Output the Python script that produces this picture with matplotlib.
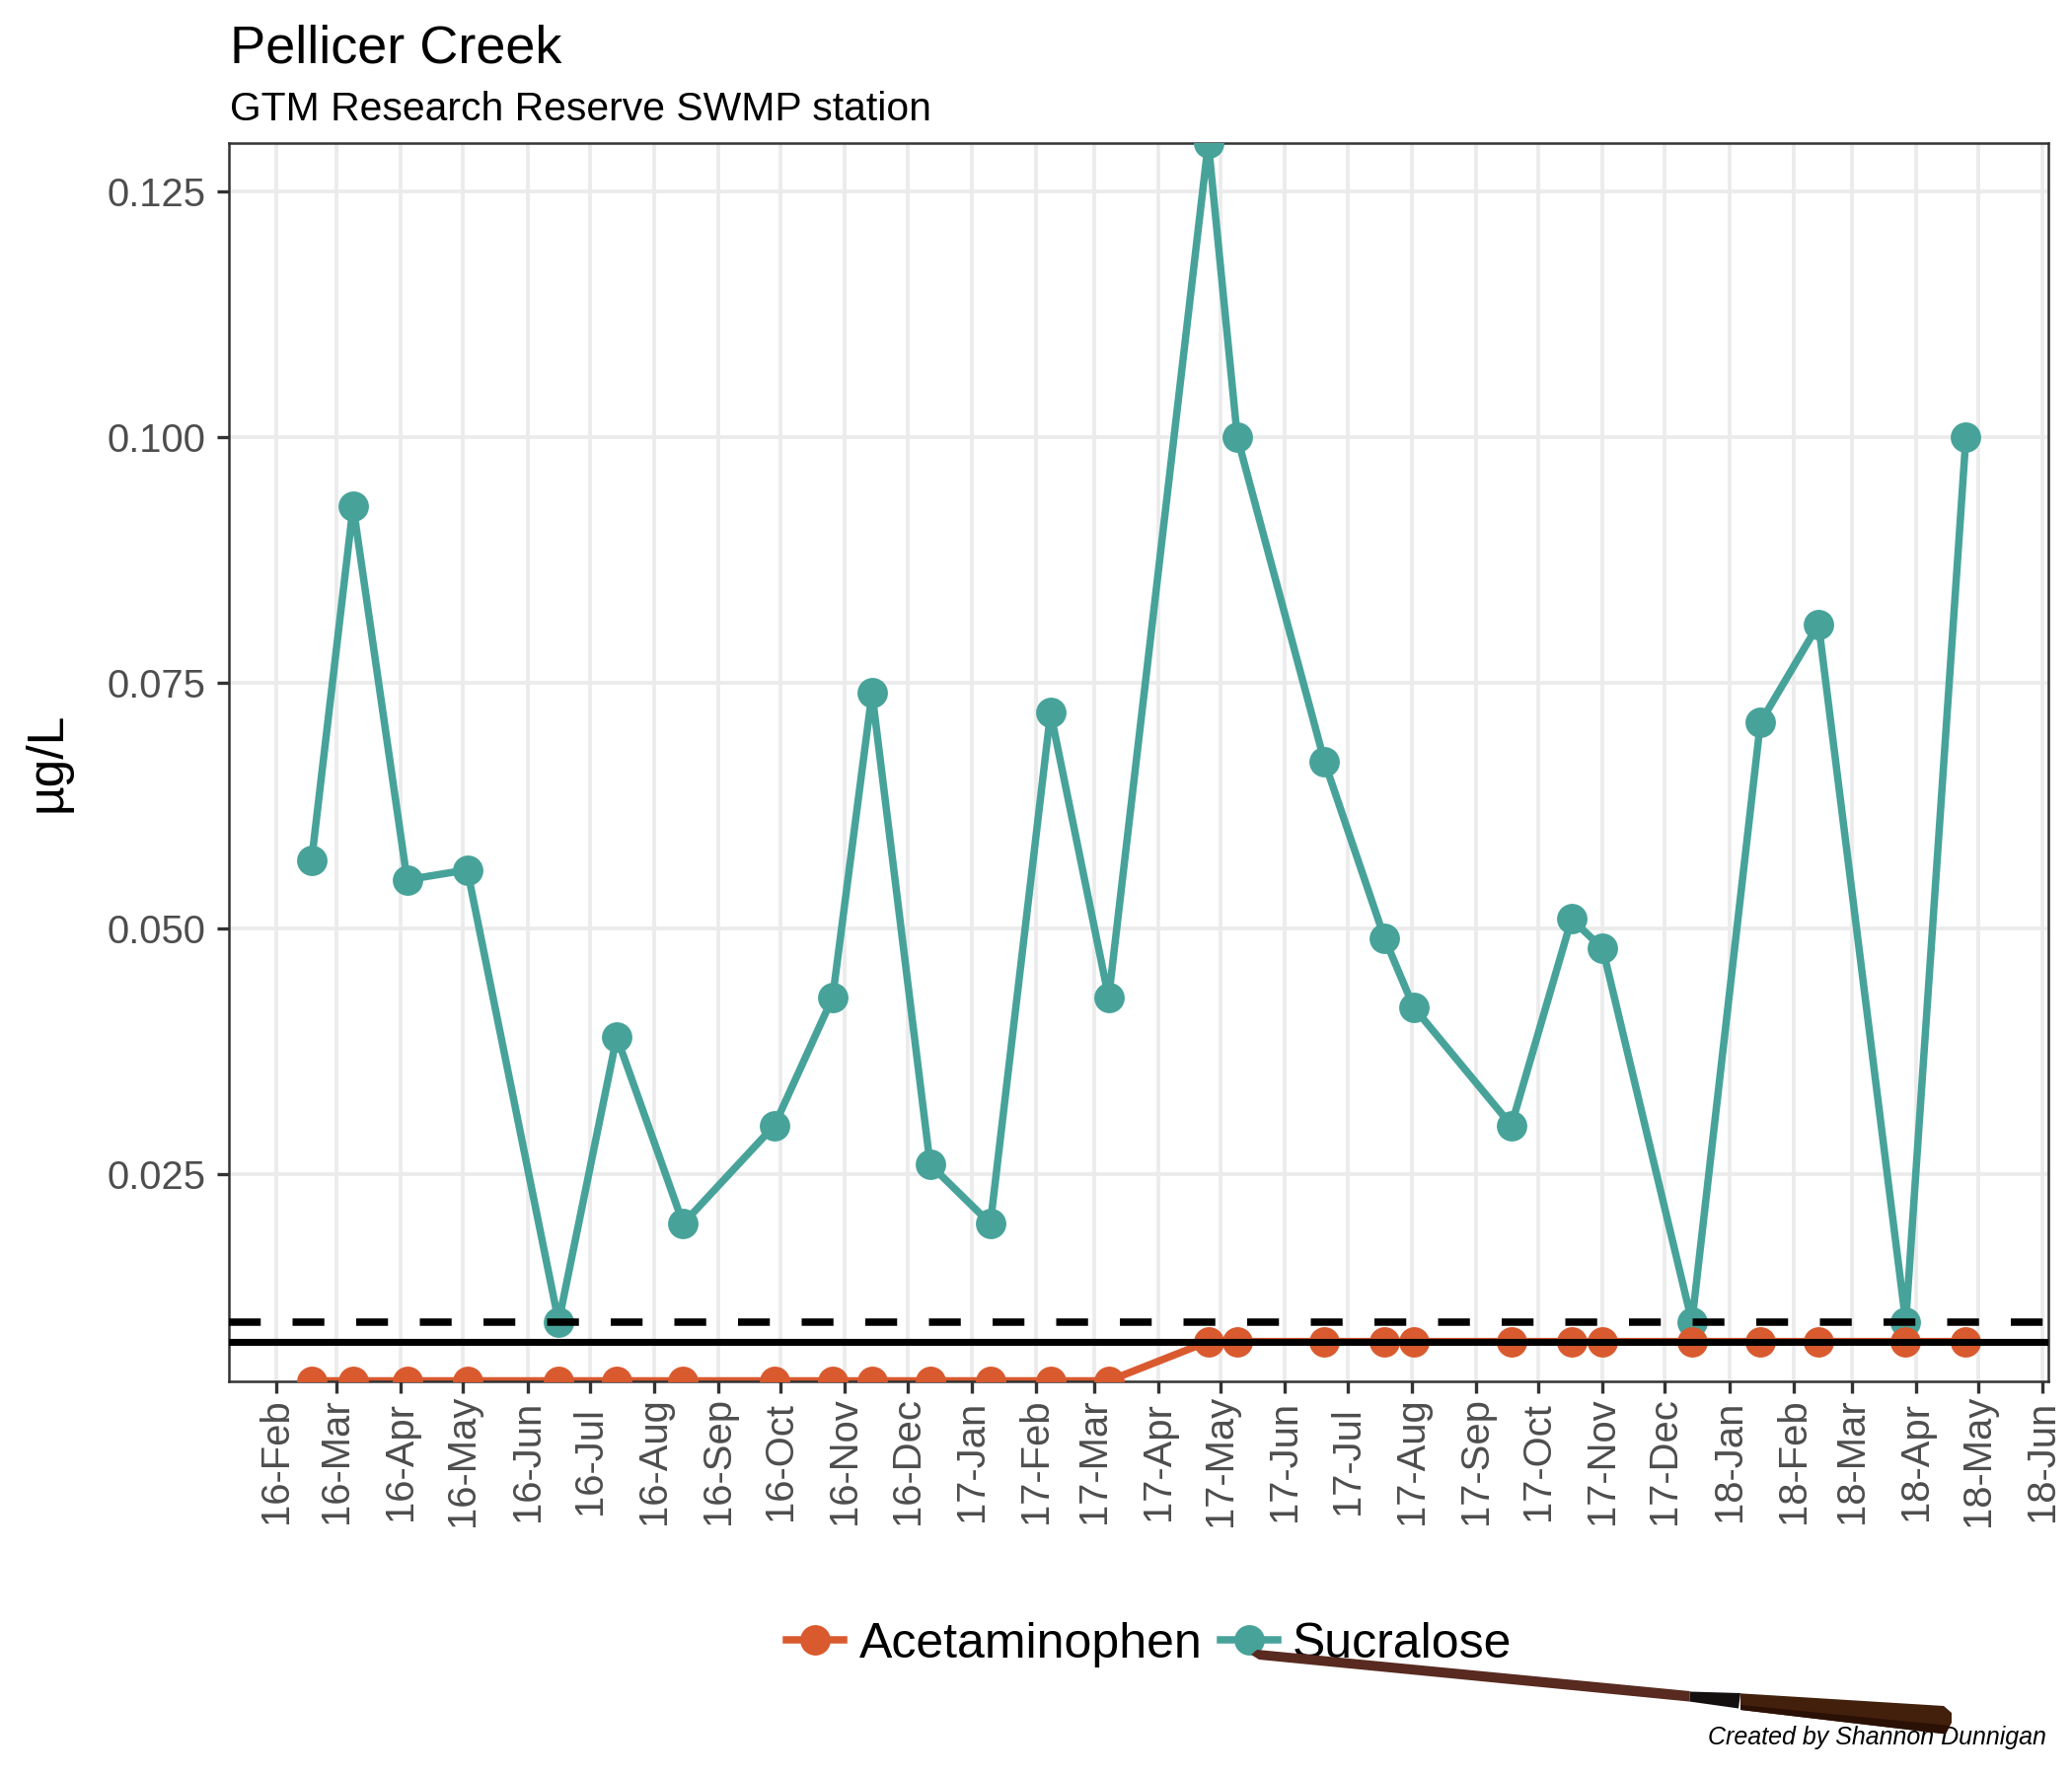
import matplotlib
matplotlib.use("Agg")
import matplotlib.dates as mdates
import matplotlib.pyplot as plt
import numpy as np
import pandas as pd
from matplotlib.lines import Line2D
from matplotlib.patches import Polygon

plt.rcParams["font.family"] = ["Liberation Sans", "DejaVu Sans"]

# sampling dates (same for both compounds)
sample_dates = [
    "2016-02-18", "2016-03-09", "2016-04-04", "2016-05-03", "2016-06-16", "2016-07-14",
    "2016-08-15", "2016-09-28", "2016-10-26", "2016-11-14", "2016-12-12", "2017-01-10",
    "2017-02-08", "2017-03-08", "2017-04-25", "2017-05-09", "2017-06-20", "2017-07-19",
    "2017-08-02", "2017-09-18", "2017-10-17", "2017-11-01", "2017-12-14", "2018-01-16",
    "2018-02-13", "2018-03-27", "2018-04-25",
]
sucralose = [
    0.057, 0.093, 0.055, 0.056, 0.010, 0.039, 0.020, 0.030, 0.043, 0.074, 0.026, 0.020,
    0.072, 0.043, 0.130, 0.100, 0.067, 0.049, 0.042, 0.030, 0.051, 0.048, 0.010, 0.071,
    0.081, 0.010, 0.100,
]
acetaminophen = [0.004] * 14 + [0.008] * 13

series_names = ["Acetaminophen", "Sucralose"]
series_colors = ["#D95A2F", "#47A39A"]

reporting_limit = 0.010  # dashed
detection_limit = 0.008  # solid
y_limits = (0.004, 0.13)
y_breaks = [0.025, 0.050, 0.075, 0.100, 0.125]
month_breaks = pd.date_range("2016-02-01", "2018-06-01", freq="MS")

dates = pd.to_datetime(sample_dates)
xnum = mdates.date2num(dates)

W, H = 2100, 1800
fig = plt.figure(figsize=(7, 6), dpi=300)
ax = fig.add_axes([232 / W, 1 - 1399.5 / H, (2076.3 - 232) / W, (1399.5 - 144.7) / H])

lw = 1.8
ms = 7.4
ax.plot(xnum, acetaminophen, color=series_colors[0], lw=lw, zorder=2)
ax.plot(xnum, sucralose, color=series_colors[1], lw=lw, zorder=2)
ax.plot(xnum, sucralose, "o", color=series_colors[1], ms=ms, mew=0, zorder=3)
ax.plot(xnum, acetaminophen, "o", color=series_colors[0], ms=ms, mew=0, zorder=3)

ax.axhline(reporting_limit, color="black", lw=1.8, ls=(0, (4.3, 4.3)), zorder=4)
ax.axhline(detection_limit, color="black", lw=1.7, zorder=4)

span = xnum.max() - xnum.min()
ax.set_xlim(xnum.min() - 0.05 * span, xnum.max() + 0.05 * span)
ax.set_ylim(*y_limits)

ax.set_yticks(y_breaks)
ax.set_yticklabels([f"{v:.3f}" for v in y_breaks])
ax.set_xticks(mdates.date2num(month_breaks))
ax.set_xticklabels(month_breaks.strftime("%y-%b"), rotation=90, ha="center", va="center")

ax.set_axisbelow(True)
ax.grid(True, color="#EBEBEB", lw=0.9)
for s in ax.spines.values():
    s.set_color("#333333")
    s.set_linewidth(0.6)
ax.tick_params(axis="both", length=2.9, width=0.8, color="#333333",
               labelcolor="#4D4D4D", labelsize=9.6)
ax.tick_params(axis="y", pad=2.8)
ax.tick_params(axis="x", pad=16.6)

fig.text(61.7 / W, 1 - 772.5 / H, "µg/L", rotation=90, rotation_mode="anchor",
         ha="center", va="baseline", fontsize=12.4)

fig.text(233 / W, 1 - 63 / H, "Pellicer Creek", fontsize=13, va="baseline")
fig.text(233 / W, 1 - 122.5 / H, "GTM Research Reserve SWMP station", fontsize=9.8, va="baseline")
fig.text(2074 / W, 1 - 1767.7 / H, "Created by Shannon Dunnigan", fontsize=6,
         style="italic", ha="right", va="baseline")

handles = [Line2D([], [], color=c, lw=lw, marker="o", ms=ms, mew=0) for c in series_colors]
fig.legend(handles, series_names, loc="center", bbox_to_anchor=(1165 / W, 1 - 1666.7 / H),
           ncol=2, frameon=False, fontsize=12, borderpad=0, borderaxespad=0,
           handlelength=1.16, handletextpad=0.3, columnspacing=0.38)


# the brush drawn over the legend in the reference
def fig_poly(pts, color):
    xy = [(px / W, 1 - py / H) for px, py in pts]
    fig.add_artist(Polygon(xy, closed=True, facecolor=color, edgecolor="none",
                           transform=fig.transFigure, zorder=10))


fig_poly([(1268, 1677), (1274, 1672), (1712.7, 1714), (1712.7, 1724.6), (1276, 1682)], "#582A20")
fig_poly([(1712.7, 1714.5), (1764, 1716), (1762, 1731.5), (1712.7, 1724.6)], "#141010")
fig_poly([(1764, 1716.3), (1970, 1729), (1978, 1736), (1978, 1746), (1972, 1757.5),
          (1764, 1733)], "#42200C")
fig_poly([(1764, 1728), (1976, 1749), (1972, 1757.5), (1764, 1733)], "#2A1005")

fig.savefig("out.png", dpi=300)
